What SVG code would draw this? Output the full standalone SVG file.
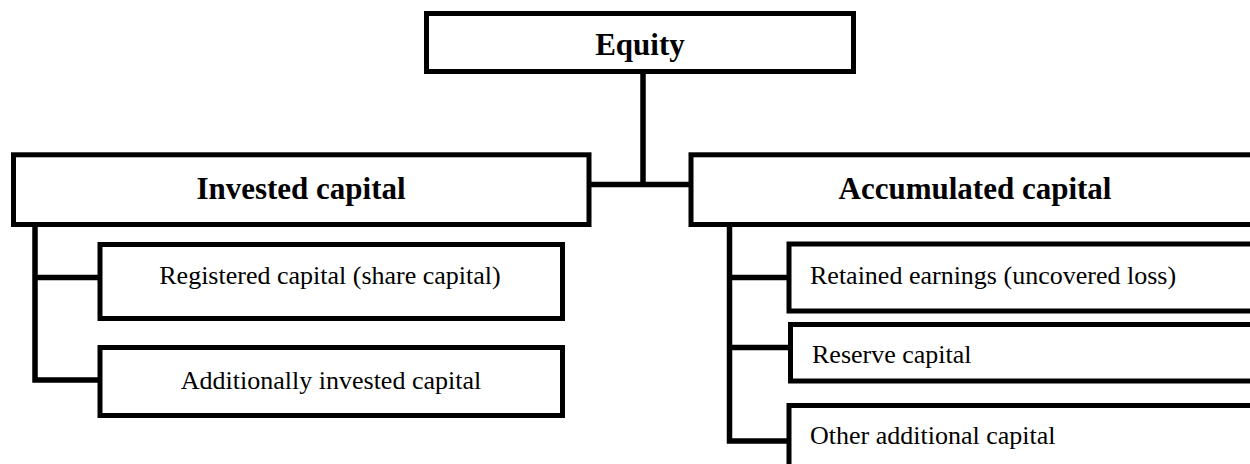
<svg xmlns="http://www.w3.org/2000/svg" width="1250" height="464" viewBox="0 0 1250 464">
<style>
.box{fill:#fff;stroke:#000;stroke-width:5}
.ln{fill:none;stroke:#000;stroke-width:5.5}
.b{font-family:"Liberation Serif","Times New Roman",serif;font-weight:bold;font-size:31px;fill:#000}
.r{font-family:"Liberation Serif","Times New Roman",serif;font-size:26px;fill:#000}
</style>
<rect width="1250" height="464" fill="#fff"/>
<g id="connectors">
<path class="ln" d="M643,74 V184.5 M589,184.5 H691"/>
<path class="ln" d="M35,227 V380 H100 M35,277.5 H100"/>
<path class="ln" d="M729.5,227 V441 H789 M729.5,277.5 H789 M729.5,347.5 H790"/>
</g>
<g id="equity"><rect class="box" x="426.5" y="13.5" width="427" height="58"/><text class="b" x="640" y="55" text-anchor="middle">Equity</text></g>
<g id="invested"><rect class="box" x="13.5" y="154.8" width="575.5" height="69.7"/><text class="b" x="301" y="199" text-anchor="middle">Invested capital</text></g>
<g id="accumulated"><rect class="box" x="691" y="154.8" width="580" height="69.7"/><text class="b" x="975" y="199" text-anchor="middle">Accumulated capital</text></g>
<g id="registered"><rect class="box" x="100" y="244.5" width="462.5" height="74"/><text class="r" x="330" y="284" text-anchor="middle">Registered capital (share capital)</text></g>
<g id="additional"><rect class="box" x="100" y="347.5" width="462.5" height="68"/><text class="r" x="331" y="389" text-anchor="middle">Additionally invested capital</text></g>
<g id="retained"><rect class="box" x="789" y="244" width="480" height="67"/><text class="r" x="810" y="284">Retained earnings (uncovered loss)</text></g>
<g id="reserve"><rect class="box" x="790.5" y="324.5" width="480" height="56.5"/><text class="r" x="812" y="363">Reserve capital</text></g>
<g id="other"><rect class="box" x="789" y="405.5" width="480" height="80"/><text class="r" x="810" y="444">Other additional capital</text></g>
</svg>
